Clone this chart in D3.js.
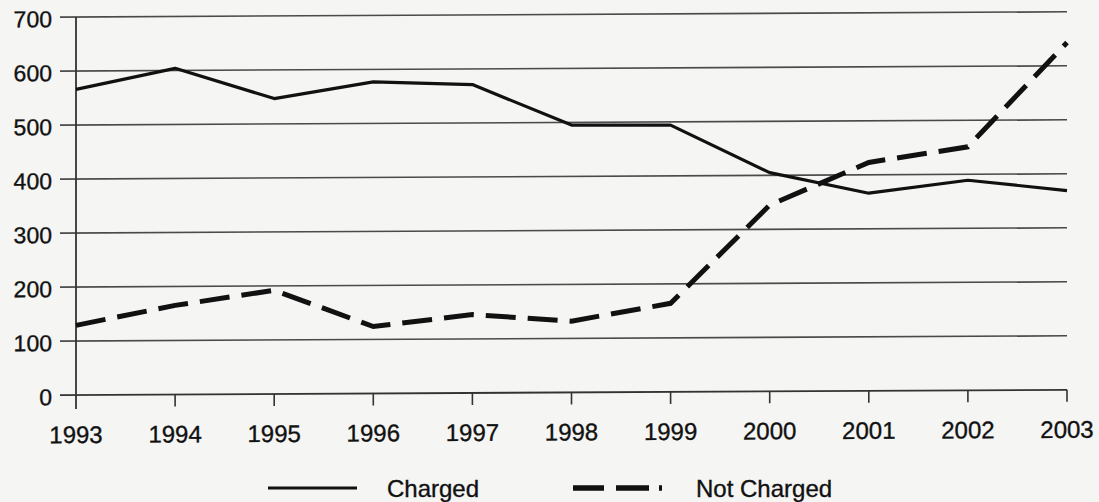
<!DOCTYPE html>
<html>
<head>
<meta charset="utf-8">
<script src="https://cdn.jsdelivr.net/npm/d3@7"></script>
<style>
  html, body { margin: 0; padding: 0; background: #f5f5f4; }
  svg { display: block; }
  text { font-family: "Liberation Sans", Arial, sans-serif; fill: #111; stroke: #111; stroke-width: 0.35; }
</style>
</head>
<body>
<svg id="chart" width="1099" height="502"></svg>
<script>
const years = [1993, 1994, 1995, 1996, 1997, 1998, 1999, 2000, 2001, 2002, 2003];
const charged = [566, 604, 547, 577, 571, 495, 494, 405, 366, 389, 369];
const notCharged = [129, 165, 192, 124, 145, 132, 164, 345, 423, 451, 643];
const yTicks = [0, 100, 200, 300, 400, 500, 600, 700];
const seriesNames = ["Charged", "Not Charged"];

const svg = d3.select("#chart");
const x = d3.scaleLinear().domain([1993, 2003]).range([76, 1067]);
const y = d3.scaleLinear().domain([0, 700]).range([395, 17]);

// slight skew like the scanned original
const plot = svg.append("g")
  .attr("transform", "translate(76,0) skewY(-0.3) translate(-76,0)");

// gridlines
plot.append("g").selectAll("line").data(yTicks.filter(d => d > 0)).join("line")
  .attr("x1", 60).attr("x2", x(2003))
  .attr("y1", d => y(d)).attr("y2", d => y(d))
  .attr("stroke", "#4a4a4a").attr("stroke-width", 1.6);

// y labels
plot.append("g").selectAll("text").data(yTicks).join("text")
  .attr("x", 52).attr("y", d => y(d) + 10)
  .attr("text-anchor", "end").attr("font-size", 23)
  .text(d => d);

// x axis line
plot.append("line").attr("x1", 60).attr("x2", x(2003))
  .attr("y1", y(0)).attr("y2", y(0)).attr("stroke", "#333").attr("stroke-width", 1.8);
// y axis line
plot.append("line").attr("x1", x(1993)).attr("x2", x(1993))
  .attr("y1", y(700)).attr("y2", y(0) + 14).attr("stroke", "#333").attr("stroke-width", 1.8);

// x ticks
plot.append("g").selectAll("line").data(years.slice(1)).join("line")
  .attr("x1", d => x(d)).attr("x2", d => x(d))
  .attr("y1", y(0)).attr("y2", y(0) + 12)
  .attr("stroke", "#333").attr("stroke-width", 1.6);

// x labels
plot.append("g").selectAll("text").data(years).join("text")
  .attr("x", d => x(d)).attr("y", 443)
  .attr("text-anchor", "middle").attr("font-size", 24)
  .text(d => d);

const line = d3.line().x((d, i) => x(years[i])).y(d => y(d));

plot.append("path").datum(charged).attr("d", line)
  .attr("fill", "none").attr("stroke", "#111").attr("stroke-width", 3.2)
  .attr("stroke-linejoin", "round");

plot.append("path").datum(notCharged).attr("d", line)
  .attr("fill", "none").attr("stroke", "#111").attr("stroke-width", 5)
  .attr("stroke-dasharray", "30,12");

// legend
const lg = svg.append("g");
lg.append("line").attr("x1", 268).attr("x2", 357).attr("y1", 488).attr("y2", 488)
  .attr("stroke", "#111").attr("stroke-width", 3);
lg.append("text").attr("x", 387).attr("y", 497).attr("font-size", 24).text(seriesNames[0]);
lg.append("line").attr("x1", 573).attr("x2", 665).attr("y1", 488).attr("y2", 488)
  .attr("stroke", "#111").attr("stroke-width", 5.5)
  .attr("stroke-dasharray", "31,12,33,10,3,20");
lg.append("text").attr("x", 696).attr("y", 497).attr("font-size", 24).text(seriesNames[1]);
</script>
</body>
</html>
